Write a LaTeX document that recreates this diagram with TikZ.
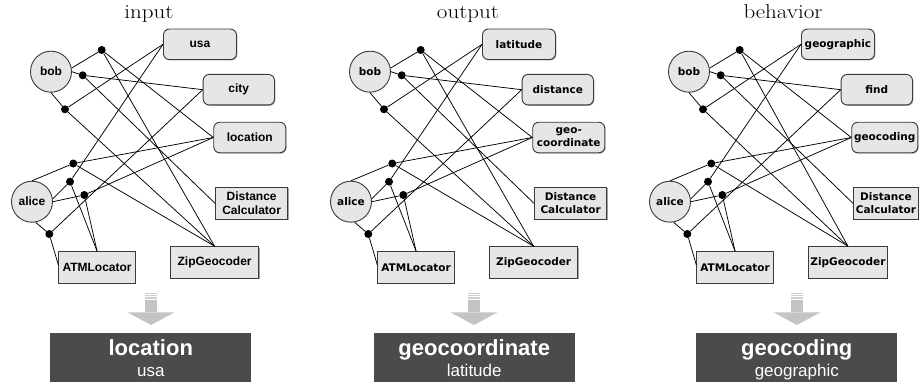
\documentclass[tikz,border=0pt]{standalone}
\usepackage{fontspec}
\usepackage{graphicx}
\usetikzlibrary{shadows,calc}
\newfontfamily\arialfont{Liberation Sans}
\newfontfamily\dvfont{DejaVu Sans}
\definecolor{nodefill}{HTML}{E6E6E6}
\definecolor{nodeline}{HTML}{3A3A3A}
\definecolor{arrowgrey}{HTML}{C4C4C4}
\definecolor{stripegrey}{HTML}{CFCFCF}
\definecolor{darkbox}{HTML}{4B4B4B}

\tikzset{
  usernode/.style={circle, draw=nodeline, fill=nodefill, line width=0.9pt,
    minimum size=41pt, inner sep=0pt},
  tagnode/.style={rectangle, rounded corners=6pt, draw=nodeline, fill=nodefill,
    line width=0.9pt, minimum height=30.5pt, inner sep=1pt, align=center,
    drop shadow={shadow xshift=0.9pt, shadow yshift=-0.9pt, opacity=0.6, fill=black!60}},
  resnode/.style={rectangle, draw=nodeline, fill=nodefill, line width=0.9pt,
    minimum height=31.6pt, inner sep=1pt, align=center,
    drop shadow={shadow xshift=0.9pt, shadow yshift=-0.9pt, opacity=0.6, fill=black!60}},
  hyperdot/.style={circle, fill=black, inner sep=0pt, minimum size=8pt},
  link/.style={draw=black, line width=0.75pt},
  paneltitle/.style={anchor=base, inner sep=0pt,
    font=\fontsize{20}{20}\selectfont},
  resultbox/.style={rectangle, fill=darkbox, draw=none, minimum width=201pt,
    minimum height=48.5pt, inner sep=0pt},
  maintext/.style={anchor=base, inner sep=0pt, text=white,
    font=\arialfont\bfseries\fontsize{22}{22}\selectfont},
  subtext/.style={anchor=base, inner sep=0pt, text=white,
    font=\arialfont\fontsize{17}{17}\selectfont},
}

% #1 prefix, #2 xshift, #3 font, #4-#6 tags, #7 tag3 width, #8 DC width, #9 Zip width
\newcommand\graphpanel[9]{%
\begin{scope}[xshift=#2, every node/.append style={font=#3}]
  \node[usernode] (#1bob) at (51,71.7) {bob};
  \node[usernode] (#1alice) at (32,201.7) {alice};
  \node[tagnode, anchor=west, minimum width=73pt] (#1t1) at (163,44.3) {#4};
  \node[tagnode, anchor=west, minimum width=71.3pt] (#1t2) at (202.7,89.7) {#5};
  \node[tagnode, anchor=west, minimum width=#7] (#1t3) at (213.3,137.5) {#6};
  \node[resnode, anchor=west, minimum width=#8] (#1dc) at (215,203.3) {Distance\\Calculator};
  \node[resnode, anchor=west, minimum width=#9] (#1zip) at (170,262.5) {ZipGeocoder};
  \node[resnode, anchor=west, minimum width=76.7pt] (#1atm) at (58.3,267.5) {ATMLocator};
  \node[hyperdot] (#1d1) at (101.7,50) {};
  \node[hyperdot] (#1d2) at (82.7,75.3) {};
  \node[hyperdot] (#1d3) at (65,109.3) {};
  \node[hyperdot] (#1d4) at (73.3,163.5) {};
  \node[hyperdot] (#1d5) at (70,181.7) {};
  \node[hyperdot] (#1d6) at (84.3,195) {};
  \node[hyperdot] (#1d7) at (49.3,234) {};
  \draw[link] (#1bob.10) -- (#1d1);
  \draw[link] (#1d1) -- (#1t3.west);
  \draw[link] (#1d1) -- (#1zip.north);
  \draw[link] (#1bob.east) -- (#1d2);
  \draw[link] (#1d2) -- (#1t2.west);
  \draw[link] (#1d2) -- (#1dc.west);
  \draw[link] (#1bob.-90) -- (#1d3);
  \draw[link] (#1d3) -- (#1t1.west);
  \draw[link] (#1d3) -- (#1zip.north);
  \draw[link] (#1alice.north) -- (#1d4);
  \draw[link] (#1d4) -- (#1t3.west);
  \draw[link] (#1d4) -- (#1zip.north);
  \draw[link] (#1alice.8) -- (#1d5);
  \draw[link] (#1d5) -- (#1t1.west);
  \draw[link] (#1d5) -- (#1atm.north);
  \draw[link] (#1alice.east) -- (#1d6);
  \draw[link] (#1d6) -- (#1t3.west);
  \draw[link] (#1d6) -- (#1atm.north);
  \draw[link] (#1alice.-80) -- (#1d7);
  \draw[link] (#1d7) -- (#1t2.west);
  \draw[link] (#1d7) -- ($(#1atm.north west)!0.42!(#1atm.south west)$);
\end{scope}}

\begin{document}
\begin{tikzpicture}[x=1pt, y=-1pt]
  \useasboundingbox[fill=white] (0,0) rectangle (920,385);

  \node[paneltitle] (title1) at (149,18.5) {\scalebox{1.15}[1]{input}};
  \node[paneltitle] (title2) at (468,18.5) {\scalebox{1.15}[1]{output}};
  \node[paneltitle] (title3) at (783,18.5) {\scalebox{1.15}[1]{behavior}};

  \graphpanel{a}{0pt}{\arialfont\bfseries\fontsize{12}{13.5}\selectfont}{usa}{city}{location}{72pt}{72.3pt}{88.3pt}
  \graphpanel{b}{319pt}{\dvfont\bfseries\fontsize{10.5}{13}\selectfont}{latitude}{distance}{geo-\\coordinate}{72pt}{72.3pt}{88.3pt}
  \graphpanel{c}{638pt}{\dvfont\bfseries\fontsize{10.5}{13}\selectfont}{geographic}{find}{geocoding}{66pt}{65pt}{79pt}

  % big grey arrows
  \foreach \cx in {151,474,797} {
    \fill[stripegrey] (\cx-6,292.6) rectangle (\cx+6,293.9);
    \fill[stripegrey] (\cx-6,295.0) rectangle (\cx+6,296.3);
    \fill[stripegrey] (\cx-6,297.4) rectangle (\cx+6,298.7);
    \fill[arrowgrey] (\cx-6,299.8) rectangle (\cx+6,312.3);
    \fill[arrowgrey] (\cx-23.5,312.3) -- (\cx+23.5,312.3) -- (\cx,325) -- cycle;
  }

  % result boxes
  \node[resultbox] (res1) at (150.8,357.5) {};
  \node[maintext] (res1main) at (150.8,355) {location};
  \node[subtext] (res1sub) at (150.8,376.7) {usa};
  \node[resultbox] (res2) at (474.2,357.5) {};
  \node[maintext] (res2main) at (474.2,355) {geocoordinate};
  \node[subtext] (res2sub) at (474.2,376.7) {latitude};
  \node[resultbox] (res3) at (796.8,357.5) {};
  \node[maintext] (res3main) at (796.8,355) {geocoding};
  \node[subtext] (res3sub) at (796.8,376.7) {geographic};
\end{tikzpicture}
\end{document}
